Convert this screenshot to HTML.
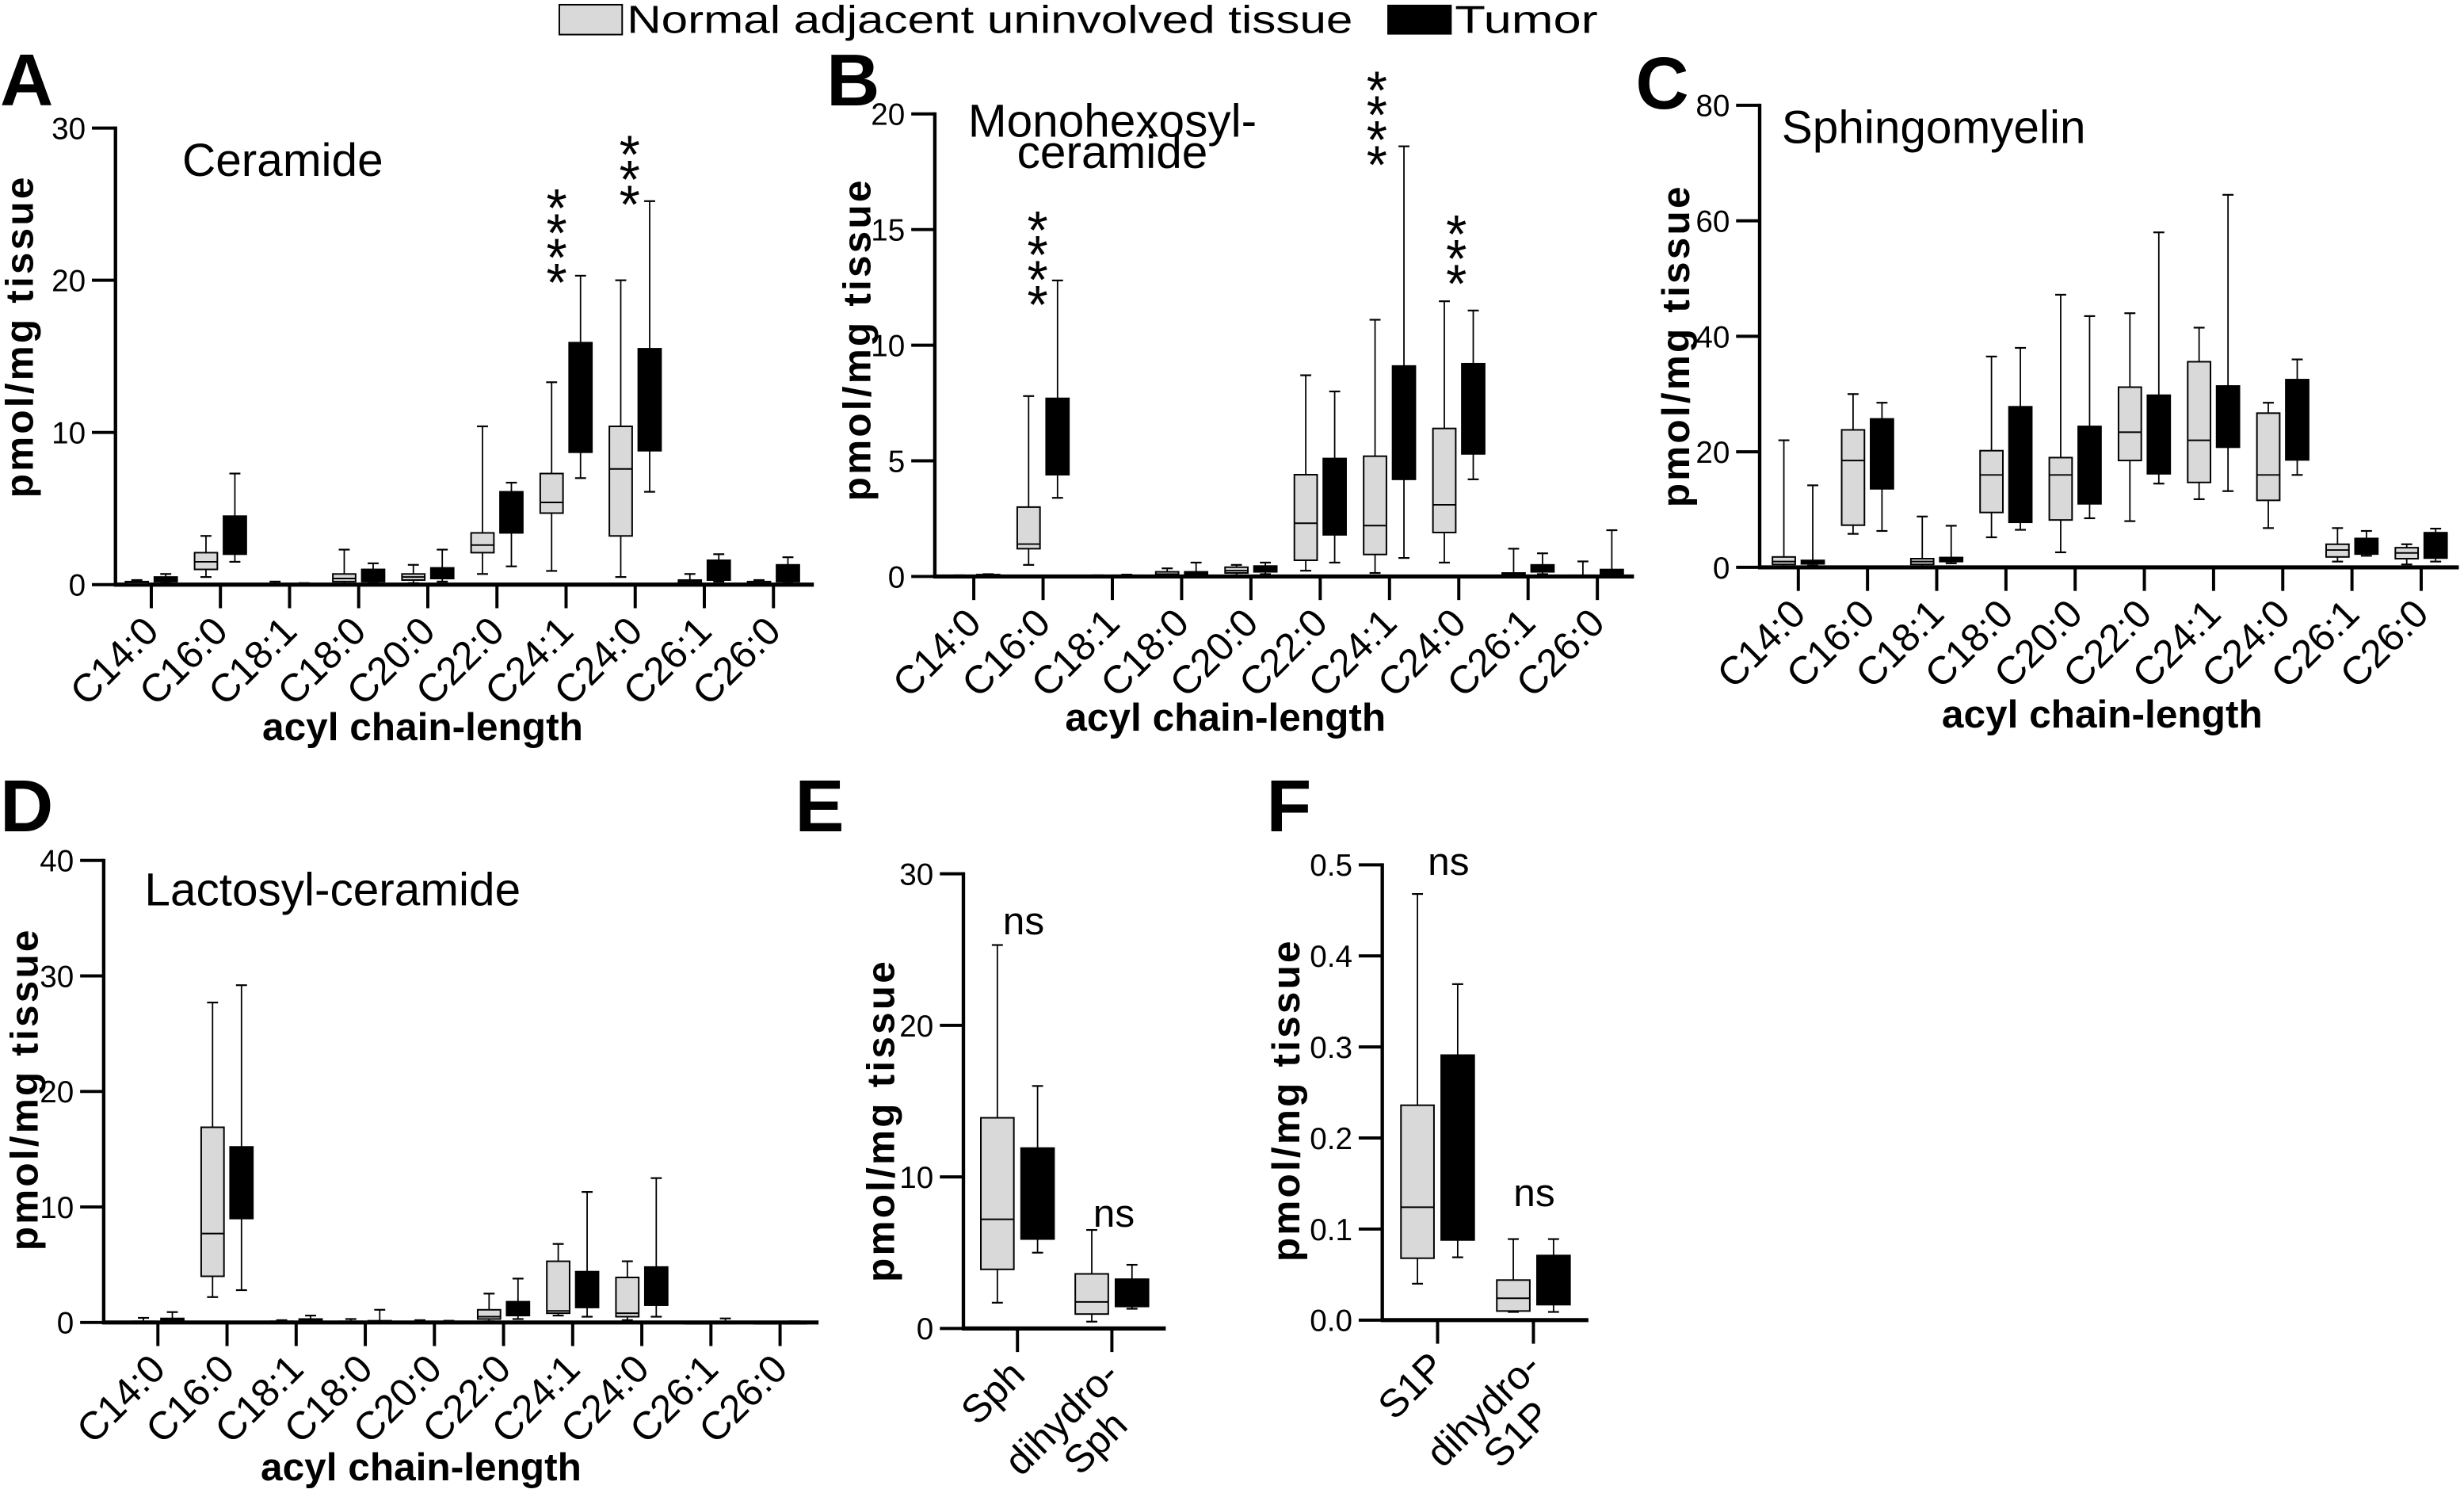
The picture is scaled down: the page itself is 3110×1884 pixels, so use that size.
<!DOCTYPE html>
<html><head><meta charset="utf-8"><style>
html,body{margin:0;padding:0;background:#fff;}
svg{display:block;}
text{font-family:"Liberation Sans",Arial,sans-serif;}
</style></head><body>
<svg id="fig" xmlns="http://www.w3.org/2000/svg" width="3110" height="1884" viewBox="0 0 1568.3 950" preserveAspectRatio="none">
<rect x="0" y="0" width="1568.3" height="950" fill="#fff"/>
<g>
  <rect x="356" y="3" width="40" height="19" fill="#d9d9d9" stroke="#000" stroke-width="1"/>
  <text x="399" y="21" font-size="25" textLength="462" lengthAdjust="spacingAndGlyphs">Normal adjacent uninvolved tissue</text>
  <rect x="883" y="3" width="41" height="19" fill="#000"/>
  <text x="926" y="21" font-size="25" textLength="91" lengthAdjust="spacingAndGlyphs">Tumor</text>
</g>
<g id="panels"></g>
</svg>
<script>
// ---- data ----
const acylCats = ["C14:0","C16:0","C18:1","C18:0","C20:0","C22:0","C24:1","C24:0","C26:1","C26:0"];
// [min, q1, median, q3, max]
const aNormal = [[0,0,0.1,0.2,0.3],[0.5,1,1.5,2.1,3.2],[0,0,0,0.05,0.2],[0,0.2,0.4,0.7,2.3],[0.1,0.3,0.5,0.7,1.3],[0.7,2.1,2.6,3.4,10.4],[0.9,4.7,5.4,7.3,13.3],[0.5,3.2,7.6,10.4,20],[0,0.1,0.2,0.3,0.7],[0,0.05,0.1,0.2,0.3]];
const aTumor  = [[0.1,0.2,0.4,0.5,0.7],[1.5,2,3,4.5,7.3],[0,0,0,0.05,0.1],[0.1,0.2,0.6,1,1.4],[0.2,0.4,0.7,1.1,2.3],[1.2,3.4,4.5,6.1,6.7],[7,8.7,11,15.9,20.3],[6.1,8.8,12,15.5,25.2],[0.2,0.3,1,1.6,2],[0.1,0.2,0.6,1.3,1.8]];
const bNormal = [[0,0,0,0.02,0.05],[0.5,1.2,1.4,3,7.8],[0,0,0,0.02,0.05],[0,0.05,0.1,0.2,0.35],[0.05,0.15,0.25,0.4,0.5],[0.25,0.7,2.3,4.4,8.7],[0.15,0.95,2.2,5.2,11.1],[0.6,1.9,3.1,6.4,11.9],[0,0.05,0.1,0.15,1.2],[0,0,0.02,0.05,0.65]];
const bTumor  = [[0,0.02,0.05,0.08,0.1],[3.4,4.4,6.2,7.7,12.8],[0,0.02,0.03,0.05,0.08],[0,0.05,0.1,0.2,0.6],[0.1,0.2,0.3,0.45,0.6],[0.6,1.8,3.5,5.1,8],[0.8,4.2,6.5,9.1,18.6],[4.2,5.3,7.2,9.2,11.5],[0.1,0.2,0.3,0.5,1],[0,0.1,0.2,0.3,2]];
const cNormal = [[0,0.5,1,1.8,22],[5.8,7.3,18.5,23.8,30],[0,0.5,1,1.5,8.8],[5.2,9.5,16,20.2,36.5],[2.6,8.2,16,19,47.2],[8,18.5,23.4,31.2,44],[11.8,14.7,22,35.6,41.5],[6.8,11.6,16,26.7,28.5],[1,1.8,3,4,6.8],[0.5,1.5,2.5,3.4,4]];
const cTumor  = [[0.3,0.6,1,1.2,14.2],[6.3,13.6,18,25.7,28.5],[0.7,1,1.3,1.7,7.2],[6.5,7.8,16,27.8,38],[8.5,11,16,24.4,43.5],[14.5,16.2,24,29.8,58],[13.2,20.8,25,31.4,64.5],[16,18.6,25,32.5,36],[2,2.3,3.3,5,6.3],[1,1.6,3.5,6,6.7]];
const dNormal = [[0,0,0,0.1,0.4],[2.2,4,7.7,16.9,27.7],[0,0,0.05,0.1,0.2],[0,0,0.05,0.1,0.3],[0,0,0,0.05,0.2],[0.1,0.3,0.5,1.1,2.5],[0.6,0.8,1,5.3,6.8],[0.2,0.5,0.8,3.9,5.3],[0,0,0,0.02,0.05],[0,0,0,0.02,0.05]];
const dTumor  = [[0,0.1,0.2,0.35,0.9],[2.8,9,12,15.2,29.2],[0,0.1,0.2,0.3,0.6],[0,0,0.05,0.15,1.1],[0,0,0.02,0.05,0.15],[0.3,0.6,1.2,1.8,3.8],[0.5,1.3,3,4.4,11.3],[0.5,1.5,3,4.8,12.5],[0,0,0,0.05,0.35],[0,0,0,0.02,0.1]];
const eCats = [["Sph"],["dihydro-","Sph"]];
const eNormal = [[1.7,3.9,7.2,13.9,25.3],[0.45,0.95,1.75,3.6,6.5]];
const eTumor  = [[5,5.9,9,11.9,16],[1.3,1.45,2,3.25,4.2]];
const fCats = [["S1P"],["dihydro-","S1P"]];
const fNormal = [[0.04,0.068,0.124,0.236,0.468],[0.009,0.01,0.024,0.044,0.089]];
const fTumor  = [[0.069,0.088,0.15,0.291,0.369],[0.009,0.017,0.04,0.071,0.089]];
const aTicks = [0,10,20,30];
const bTicks = [0,5,10,15,20];
const cTicks = [0,20,40,60,80];
const dTicks = [0,10,20,30,40];
const eTicks = [0,10,20,30];
const fTicks = ["0.0","0.1","0.2","0.3","0.4","0.5"];

// ---- layout ----
const NS = "http://www.w3.org/2000/svg";
const root = document.getElementById('panels');
function el(tag, attrs, parent, txt){
  const e = document.createElementNS(NS, tag);
  for (const k in attrs) e.setAttribute(k, attrs[k]);
  if (txt !== undefined) e.textContent = txt;
  (parent||root).appendChild(e);
  return e;
}
const LFS = 25;
const panels = [
 {id:'a', letter:'A', lx:0, ly:67, cats:acylCats, n:aNormal, t:aTumor, ticks:aTicks, ymax:30, ax:73.5, yTop:81.5, y0:372, tick0:96.3, step:44.0, xEnd:518, bw:14.5, off:9.2,
  ytl:{x:21,y:214}, xtl:{x:269,y:471}, titles:[{t:'Ceramide',x:116,y:112,a:'start'}],
  stars:[{i:6,n:4,x:-6,top:122},{i:7,n:3,x:-3.5,top:88}]},
 {id:'b', letter:'B', lx:526, ly:67, cats:acylCats, n:bNormal, t:bTumor, ticks:bTicks, ymax:20, ax:595, yTop:72.5, y0:366.8, tick0:619.8, step:44.1, xEnd:1040, bw:14.5, off:9.2,
  ytl:{x:554,y:216}, xtl:{x:780,y:465}, titles:[{t:'Monohexosyl-',x:708,y:87,a:'middle'},{t:'ceramide',x:708,y:107,a:'middle'}],
  stars:[{i:1,n:4,x:-3.5,top:136},{i:6,n:4,x:-8,top:47},{i:7,n:3,x:-1.5,top:138.5}]},
 {id:'c', letter:'C', lx:1041, ly:69, cats:acylCats, n:cNormal, t:cTumor, ticks:cTicks, ymax:80, ax:1120, yTop:67, y0:361, tick0:1144.6, step:44.05, xEnd:1565, bw:14.5, off:9.2,
  ytl:{x:1075,y:220}, xtl:{x:1338,y:463}, titles:[{t:'Sphingomyelin',x:1134,y:91,a:'start'}], stars:[]},
 {id:'d', letter:'D', lx:0, ly:529, cats:acylCats, n:dNormal, t:dTumor, ticks:dTicks, ymax:40, ax:66, yTop:547.5, y0:841.5, tick0:100.5, step:44.0, xEnd:521, bw:14.5, off:9.2,
  ytl:{x:24,y:693}, xtl:{x:268,y:942}, titles:[{t:'Lactosyl-ceramide',x:92,y:576,a:'start'}], stars:[]},
 {id:'e', letter:'E', lx:506, ly:529, cats:eCats, n:eNormal, t:eTumor, ticks:eTicks, ymax:30, ax:613.2, yTop:556, y0:845.3, tick0:647.6, step:60.1, xEnd:742, bw:21, off:12.8,
  ytl:{x:569,y:713}, xtl:null, titles:[], stars:[], ns:[{x:651.5,y:594.5},{x:709,y:780.6}]},
 {id:'f', letter:'F', lx:806, ly:529, cats:fCats, n:fNormal, t:fTumor, ticks:fTicks, ymax:0.5, ax:879.8, yTop:550.3, y0:840, tick0:915, step:61, xEnd:1011, bw:21, off:12.8,
  ytl:{x:827,y:700}, xtl:null, titles:[], stars:[], ns:[{x:922,y:556.7},{x:976.5,y:767.5}]}
];

panels.forEach(p=>{
  const g = el('g',{});
  
  
  const ys = v => p.y0 - (v/p.ymax)*(p.y0-p.yTop);
  const xc = i => p.tick0 + i*p.step;

  const L = el('text',{x:p.lx,y:p.ly,'font-size':47,'font-weight':'bold'},g,p.letter);
  
  

  const ya = el('line',{x1:p.ax,y1:p.yTop-1,x2:p.ax,y2:p.y0+1,stroke:'#000','stroke-width':2.2},g);
  
  
  p.ticks.forEach(tv=>{
    const v = parseFloat(tv);
    const y = ys(v);
    el('line',{x1:p.ax-15,y1:y,x2:p.ax,y2:y,stroke:'#000','stroke-width':2},g);
    const tl = el('text',{x:p.ax-19,y:y+7,'font-size':19.5,'text-anchor':'end'},g,String(tv));
    
    
  });
  const xa = el('line',{x1:p.ax-1,y1:p.y0,x2:p.xEnd,y2:p.y0,stroke:'#000','stroke-width':2.6},g);
  
  

  p.cats.forEach((c,i)=>{
    const tx = xc(i);
    [[p.n[i],'#d9d9d9',-p.off,'normal'],[p.t[i],'#000',p.off,'tumor']].forEach(([d,fill,o,kind])=>{
      const cx = tx+o, hw=p.bw/2, cw=3.5;
      const bg = el('g',{},g);
      
      
      el('line',{x1:cx,y1:ys(d[4]),x2:cx,y2:ys(d[0]),stroke:'#000','stroke-width':0.9},bg);
      el('line',{x1:cx-cw,y1:ys(d[4]),x2:cx+cw,y2:ys(d[4]),stroke:'#000','stroke-width':1.1},bg);
      el('line',{x1:cx-cw,y1:ys(d[0]),x2:cx+cw,y2:ys(d[0]),stroke:'#000','stroke-width':1.1},bg);
      const top=ys(d[3]), bot=ys(d[1]);
      el('rect',{x:cx-hw,y:top,width:p.bw,height:Math.max(bot-top,1),fill:fill,stroke:'#000','stroke-width':1},bg);
      if(kind==='normal') el('line',{x1:cx-hw,y1:ys(d[2]),x2:cx+hw,y2:ys(d[2]),stroke:'#000','stroke-width':1},bg);
    });
    el('line',{x1:tx,y1:p.y0,x2:tx,y2:p.y0+15,stroke:'#000','stroke-width':2},g);
    const lg = el('g',{transform:`translate(${tx+6},${p.y0+31}) rotate(-45)`},g);
    
    
    if(Array.isArray(c)){
      el('text',{x:0,y:0,'font-size':LFS,'text-anchor':'end'},lg,c[0]);
      if(c.length>1){
        const w = 3.61*LFS;
        el('text',{x:-w/2+4,y:LFS*1.05,'font-size':LFS,'text-anchor':'middle'},lg,c[1]);
      }
    } else {
      el('text',{x:0,y:0,'font-size':LFS,'text-anchor':'end'},lg,c);
    }
  });

  const yt = el('text',{x:0,y:0,'font-size':25,'font-weight':'bold','text-anchor':'middle','letter-spacing':'1.6',transform:`translate(${p.ytl.x},${p.ytl.y}) rotate(-90)`},g,'pmol/mg tissue');
  
  
  if(p.xtl){
    const xt = el('text',{x:p.xtl.x,y:p.xtl.y,'font-size':25,'font-weight':'bold','text-anchor':'middle'},g,'acyl chain-length');
    
    
  }
  p.titles.forEach(t=>{
    const tt = el('text',{x:t.x,y:t.y,'font-size':29.5,'text-anchor':t.a},g,t.t);
    
    
  });
  p.stars.forEach(s=>{
    const x = xc(s.i)+s.x;
    for(let k=0;k<s.n;k++){
      const st = el('text',{x:x,y:s.top+k*15.8+22,'font-size':34,'text-anchor':'middle'},g,'*');
      
      
    }
  });
  (p.ns||[]).forEach(n=>{
    const nt = el('text',{x:n.x,y:n.y,'font-size':25,'text-anchor':'middle'},g,'ns');
    
    
  });
});
</script>
</body></html>
